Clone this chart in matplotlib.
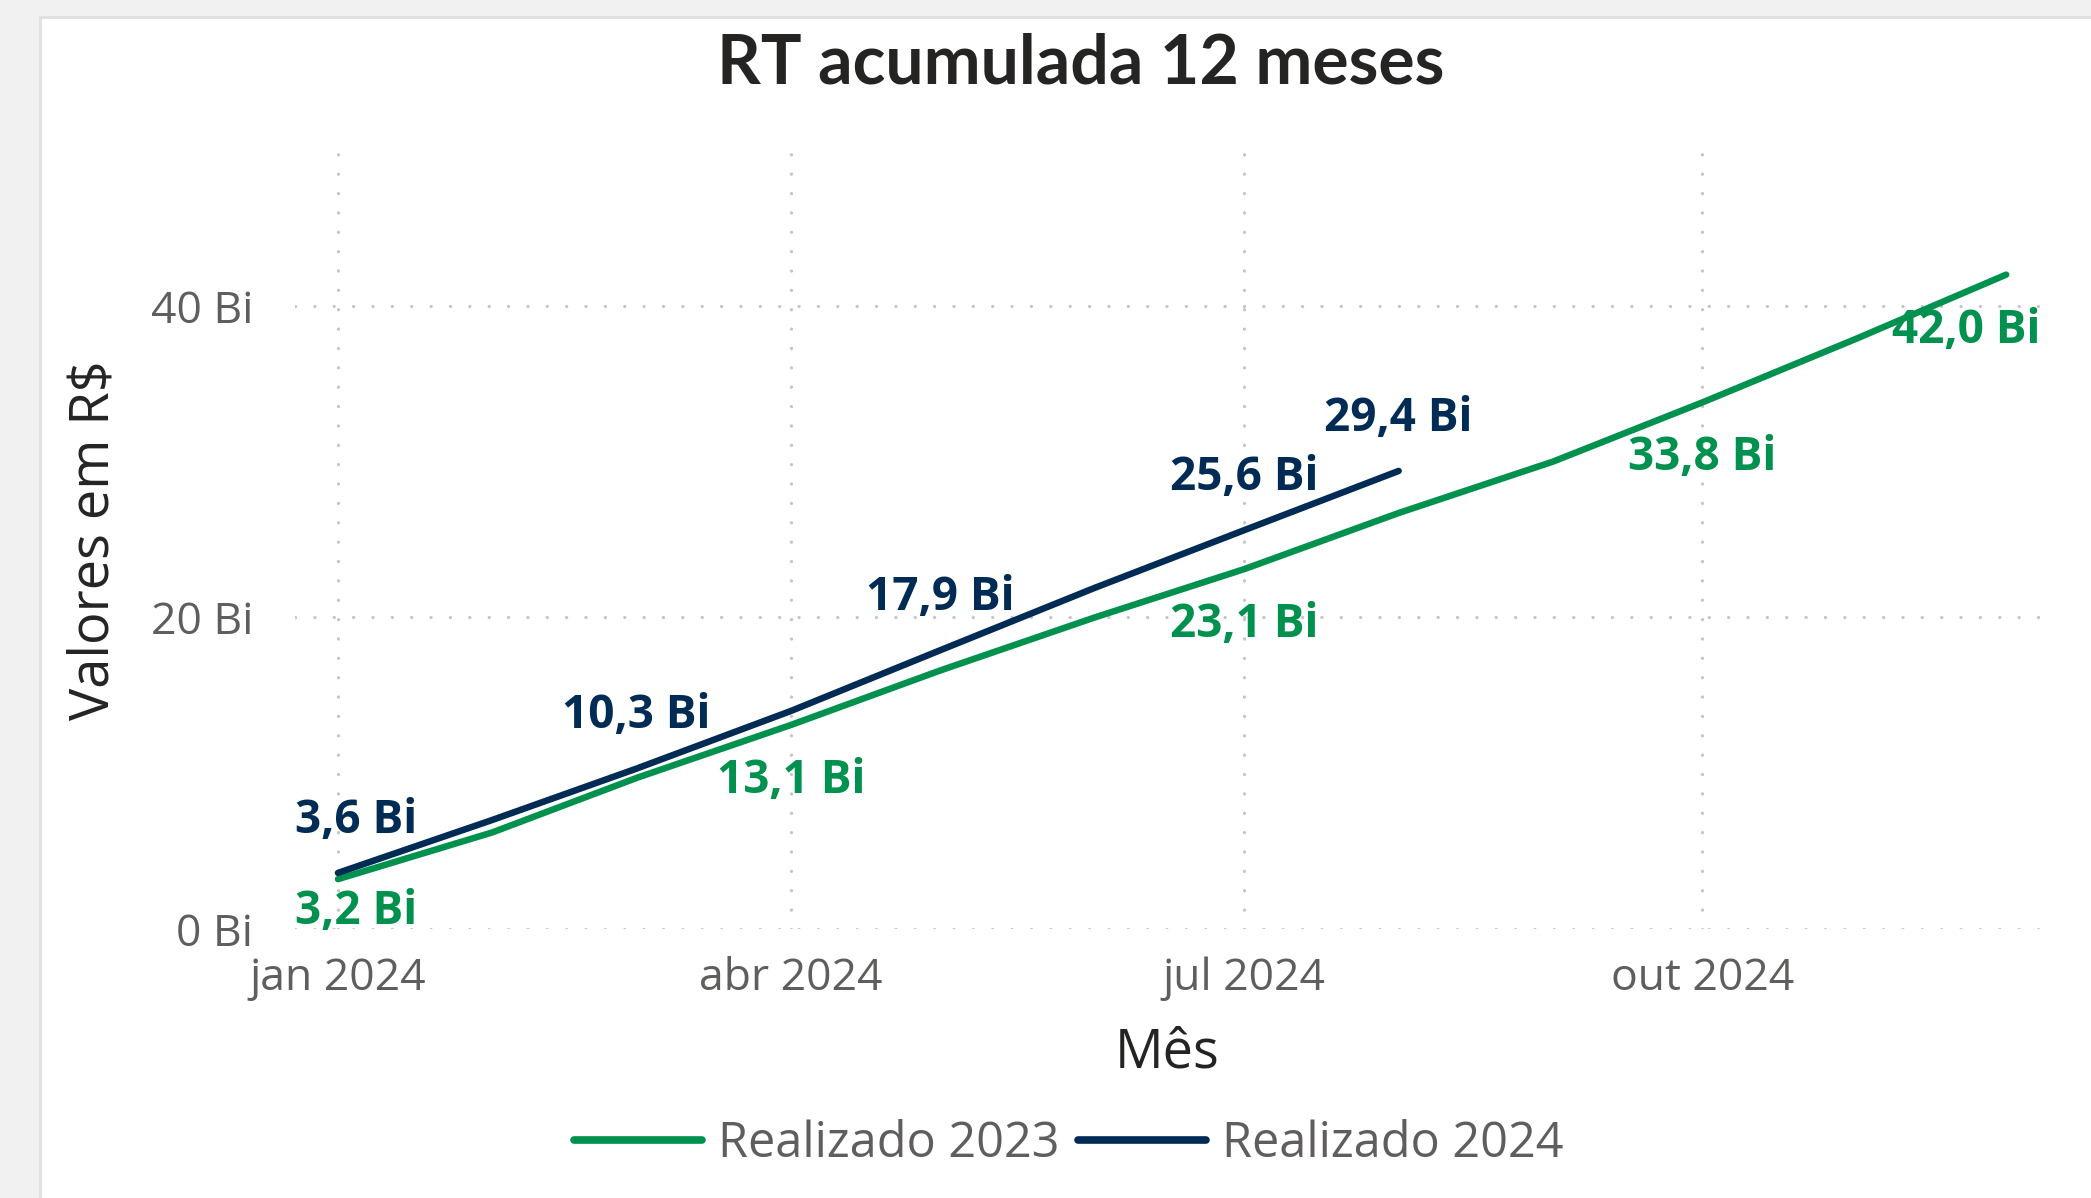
import matplotlib
matplotlib.use("Agg")
import matplotlib.pyplot as plt
from matplotlib.patches import Rectangle
from datetime import datetime

# ---------------- data ----------------
months = ["2024-01-01", "2024-02-01", "2024-03-01", "2024-04-01", "2024-05-01", "2024-06-01",
          "2024-07-01", "2024-08-01", "2024-09-01", "2024-10-01", "2024-11-01", "2024-12-01"]
realizado_2023 = [3.2, 6.2, 9.7, 13.1, 16.6, 20.0, 23.1, 26.7, 30.0, 33.8, 37.9, 42.0]
realizado_2024 = [3.6, 7.0, 10.3, 14.0, 17.9, 21.9, 25.6, 29.4]
labels_2023_idx = [0, 3, 6, 9, 11]
labels_2024_idx = [0, 2, 4, 6, 7]
x_tick_dates = ["2024-01-01", "2024-04-01", "2024-07-01", "2024-10-01"]
x_tick_labels = ["jan 2024", "abr 2024", "jul 2024", "out 2024"]
y_ticks = [0, 20, 40]
y_tick_labels = ["0 Bi", "20 Bi", "40 Bi"]
series_names = ["Realizado 2023", "Realizado 2024"]
title = "RT acumulada 12 meses"
x_label = "Mês"
y_label = "Valores em R$"

GREEN = "#00914F"
NAVY = "#002B54"
TICK_C = "#605E5C"
DARK = "#252423"
FONT = ["Open Sans", "DejaVu Sans"]

W, H = 2091, 1198
fig = plt.figure(figsize=(W / 100, H / 100), dpi=100)
fig.patch.set_facecolor("#f1f1f1")
# card
card = Rectangle((40 / W, -0.01), 1.0, 1.01 - 17 / H, transform=fig.transFigure,
                 facecolor="white", edgecolor="#e0e0e0", lw=2, zorder=-10)
fig.add_artist(card)

ax = fig.add_axes([294.6 / W, 1 - 929 / H, (2040 - 294.6) / W, (929 - 150) / H])
ax.set_facecolor("none")
ax.set_zorder(1)

xd = [datetime.strptime(m, "%Y-%m-%d") for m in months]
ax.set_xlim(datetime(2023, 12, 23, 7), datetime(2024, 12, 7, 19))
ax.set_ylim(0, 50)

for s in ax.spines.values():
    s.set_visible(False)

grid_kw = dict(color="#c6c6c6", lw=2.4, linestyle=(0, (0.01, 5.8)),
               dash_capstyle="round", zorder=0)
for yv in y_ticks:
    ax.axhline(yv, **grid_kw)
for td in x_tick_dates:
    ax.axvline(datetime.strptime(td, "%Y-%m-%d"), **grid_kw)

l1, = ax.plot(xd, realizado_2023, color=GREEN, lw=4.7, solid_capstyle="round",
              solid_joinstyle="round", label=series_names[0], zorder=3)
l2, = ax.plot(xd[:len(realizado_2024)], realizado_2024, color=NAVY, lw=4.7,
              solid_capstyle="round", solid_joinstyle="round", label=series_names[1], zorder=4)

ax.set_xticks([datetime.strptime(t, "%Y-%m-%d") for t in x_tick_dates])
ax.set_xticklabels(x_tick_labels, fontsize=32, color=TICK_C, family=FONT)
ax.set_yticks(y_ticks)
ax.set_yticklabels(y_tick_labels, fontsize=32, color=TICK_C, family=FONT)
ax.tick_params(axis="both", length=0)
ax.tick_params(axis="y", pad=30)
ax.tick_params(axis="x", pad=20)


def fmt(v):
    return f"{v:.1f}".replace(".", ",") + " Bi"


anns = []
for i in labels_2024_idx:
    a = ax.annotate(fmt(realizado_2024[i]), (xd[i], realizado_2024[i]), xytext=(0, 29),
                    textcoords="offset points", ha="center", va="baseline",
                    fontsize=33, fontweight="bold", color=NAVY, family=FONT, zorder=6)
    anns.append(a)
for i in labels_2023_idx:
    a = ax.annotate(fmt(realizado_2023[i]), (xd[i], realizado_2023[i]), xytext=(0, -49),
                    textcoords="offset points", ha="center", va="baseline",
                    fontsize=33, fontweight="bold", color=GREEN, family=FONT, zorder=6)
    anns.append(a)

fig.text(1081 / W, 1 - 84 / H, title, ha="center", va="baseline", fontsize=49,
         fontweight="bold", color=DARK, family=["Lato", "DejaVu Sans"])
fig.text(1167 / W, 1 - 1068 / H, x_label, ha="center", va="baseline", fontsize=39,
         color=DARK, family=FONT)
fig.text(94 / W, 1 - 540 / H, y_label, ha="center", va="center", rotation=90,
         fontsize=39, color=DARK, family=FONT)

leg = fig.legend(handles=[l1, l2], labels=series_names, loc="center",
                 bbox_to_anchor=(1069 / W, 1 - 1144 / H), ncol=2, frameon=False,
                 prop={"family": FONT, "size": 35}, handlelength=2.63,
                 handletextpad=0.33, columnspacing=0.38)
for t in leg.get_texts():
    t.set_color(TICK_C)
for h in leg.legend_handles:
    h.set_linewidth(5.5)
    h.set_solid_capstyle("round")

# keep data labels inside plot area
fig.canvas.draw()
r = fig.canvas.get_renderer()
axbb = ax.get_window_extent(r)
k = 72 / fig.dpi
for a in anns:
    bb = a.get_window_extent(r)
    dx = 0
    if bb.x0 < axbb.x0:
        dx = axbb.x0 - bb.x0
    elif bb.x1 > axbb.x1:
        dx = axbb.x1 - bb.x1
    ox, oy = a.xyann
    px, py = ax.transData.transform((matplotlib.dates.date2num(a.xy[0]), a.xy[1]))
    base = py + oy / k
    dy = 0
    if base < axbb.y0 + 5:
        dy = axbb.y0 + 5 - base
    a.xyann = (ox + dx * k, oy + dy * k)

fig.savefig("out.png", dpi=100, facecolor=fig.get_facecolor())
